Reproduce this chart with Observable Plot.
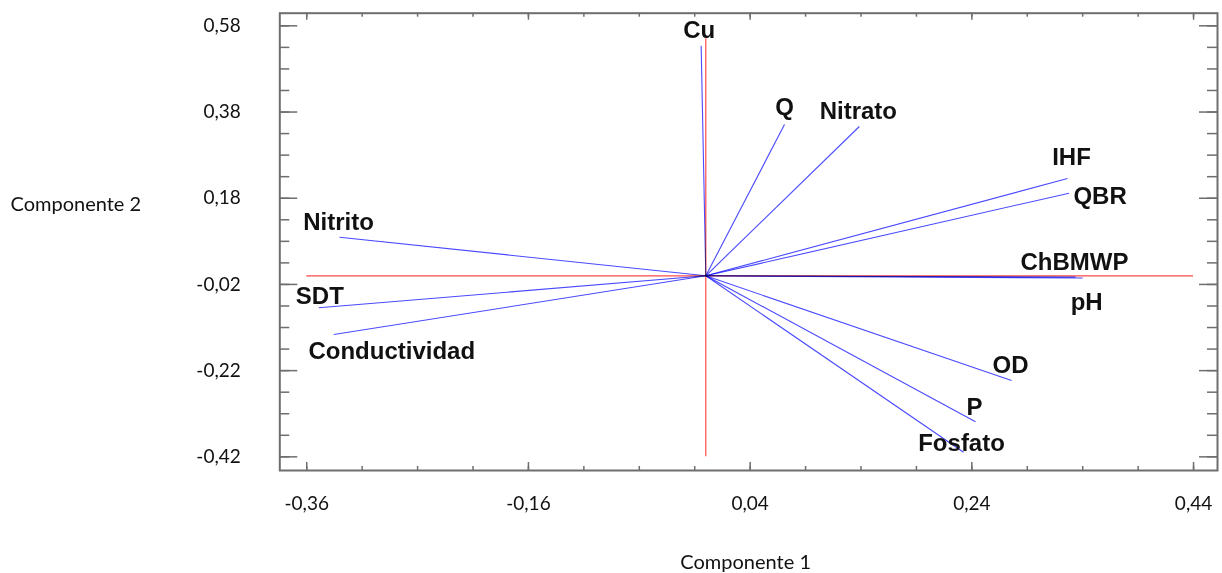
<!DOCTYPE html>
<html><head><meta charset="utf-8">
<script src="https://cdn.jsdelivr.net/npm/d3@7"></script>
<script src="https://cdn.jsdelivr.net/npm/@observablehq/plot@0.6"></script>
<style>body{margin:0;background:#fff;}</style>
</head><body><div id="chart"></div>
<script>
// ---- data ----
const variables = ["Cu","Q","Nitrato","IHF","QBR","ChBMWP","pH","Nitrito","SDT","Conductividad","OD","P","Fosfato"];
const comp1 = [-0.0042, 0.071, 0.1385, 0.3263, 0.3277, 0.3335, 0.340, -0.3304, -0.3491, -0.3356, 0.2758, 0.2433, 0.2325];
const comp2 = [0.534, 0.351, 0.3464, 0.2257, 0.1917, -0.003, -0.005, 0.0896, -0.0742, -0.1362, -0.2429, -0.3388, -0.4093];

const xTicks = [-0.36, -0.16, 0.04, 0.24, 0.44];
const xTickLabels = ["-0,36", "-0,16", "0,04", "0,24", "0,44"];
const yTicks = [-0.42, -0.22, -0.02, 0.18, 0.38, 0.58];
const yTickLabels = ["-0,42", "-0,22", "-0,02", "0,18", "0,38", "0,58"];
const xMinorTicks = [-0.36,-0.31,-0.26,-0.21,-0.16,-0.11,-0.06,-0.01,0.04,0.09,0.14,0.19,0.24,0.29,0.34,0.39,0.44];
const yMinorTicks = [-0.42,-0.37,-0.32,-0.27,-0.22,-0.17,-0.12,-0.07,-0.02,0.03,0.08,0.13,0.18,0.23,0.28,0.33,0.38,0.43,0.48,0.53,0.58];
const xDomain = [-0.3843, 0.4616];
const yDomain = [-0.4517, 0.6093];
const axisSpanX = [-0.36, 0.44];
const axisSpanY = [-0.42, 0.55];
const xTitle = "Componente 1";
const yTitle = "Componente 2";

const data = variables.map((name, i) => ({name, c1: comp1[i], c2: comp2[i]}));

// ---- layout / style ----
const W = 1222, H = 573, mL = 279.3, mR = 5, mT = 12.7, mB = 103;
const frameW = W - mL - mR, frameH = H - mT - mB;
const gray = "#6e6e6e", blue = "#4a4aff", red = "#ff4a4a";
const tickFont = "Lato, 'Open Sans', sans-serif";
const labelOffset = {
  "Cu": [-2, -15], "Q": [0, -17], "Nitrato": [-1, -15], "IHF": [4, -21], "QBR": [31, 3],
  "ChBMWP": [-1, -14.5], "pH": [4, 24.5], "Nitrito": [-1, -15], "SDT": [1, -11],
  "Conductividad": [58, 17], "OD": [-1, -15], "P": [-1, -15], "Fosfato": [-2, -9]
};

const chart = Plot.plot({
  width: W, height: H,
  marginLeft: mL, marginRight: mR, marginTop: mT, marginBottom: mB,
  style: {background: "#fff", color: "#111"},
  x: {domain: xDomain, label: null},
  y: {domain: yDomain, label: null},
  marks: [
    // inward ticks
    Plot.tickY(yMinorTicks, {y: d => d, stroke: gray, strokeWidth: 1.5, insetRight: frameW - 10}),
    Plot.tickY(yTicks, {y: d => d, stroke: gray, strokeWidth: 1.5, insetRight: frameW - 18}),
    Plot.tickY(yMinorTicks, {y: d => d, stroke: gray, strokeWidth: 1.5, insetLeft: frameW - 10}),
    Plot.tickY(yTicks, {y: d => d, stroke: gray, strokeWidth: 1.5, insetLeft: frameW - 18}),
    Plot.tickX(xMinorTicks, {x: d => d, stroke: gray, strokeWidth: 1.5, insetBottom: frameH - 4}),
    Plot.tickX(xTicks, {x: d => d, stroke: gray, strokeWidth: 1.5, insetBottom: frameH - 7}),
    Plot.tickX(xMinorTicks, {x: d => d, stroke: gray, strokeWidth: 1.5, insetTop: frameH - 4}),
    Plot.tickX(xTicks, {x: d => d, stroke: gray, strokeWidth: 1.5, insetTop: frameH - 8}),
    Plot.frame({stroke: gray, strokeWidth: 2}),
    // axis tick labels
    Plot.axisX(xTicks, {tickSize: 0, tickPadding: 26, tickFormat: d => xTickLabels[xTicks.indexOf(d)],
      fontSize: 19, fontFamily: tickFont, fill: "#111", label: null}),
    Plot.axisY(yTicks, {tickSize: 0, tickPadding: 39, tickFormat: d => yTickLabels[yTicks.indexOf(d)],
      fontSize: 19, fontFamily: tickFont, fill: "#111", label: null}),
    // red reference axes
    Plot.ruleY([0], {x1: axisSpanX[0], x2: axisSpanX[1], stroke: red, strokeWidth: 1.2}),
    Plot.ruleX([0], {y1: axisSpanY[0], y2: axisSpanY[1], stroke: red, strokeWidth: 1.2}),
    // loading vectors
    Plot.link(data, {x1: d => 0, y1: d => 0, x2: "c1", y2: "c2", stroke: blue, strokeWidth: 1.1,
      mixBlendMode: "multiply"}),
    // variable labels
    ...data.map(d => Plot.text([d], {x: "c1", y: "c2", text: "name",
      dx: labelOffset[d.name][0], dy: labelOffset[d.name][1],
      fontFamily: "'Liberation Sans', Arial, sans-serif", fontWeight: "bold", fontSize: 24,
      fill: "#111", textAnchor: "middle", lineAnchor: "middle"})),
    // axis titles
    Plot.text([yTitle], {text: d => d, frameAnchor: "left", dx: -(mL - 10), dy: -37, textAnchor: "start",
      lineAnchor: "middle", fontSize: 20, fontFamily: tickFont, fill: "#111"}),
    Plot.text([xTitle], {text: d => d, frameAnchor: "bottom", dx: -3, dy: 92, lineAnchor: "middle",
      fontSize: 20, fontFamily: tickFont, fill: "#111"})
  ]
});
document.getElementById("chart").appendChild(chart);
</script>
</body></html>
